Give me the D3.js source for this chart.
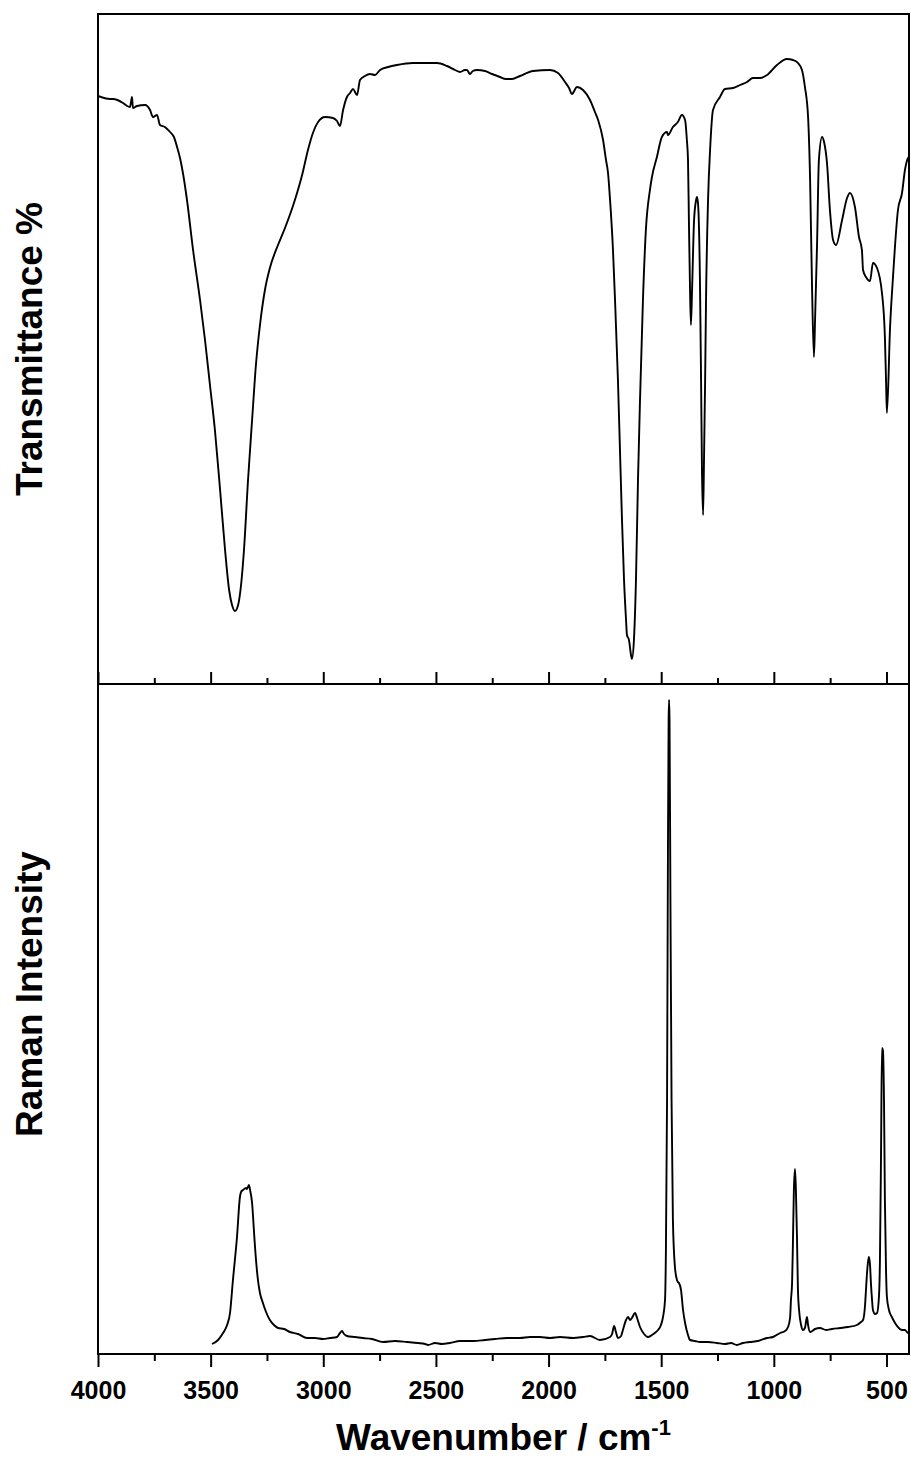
<!DOCTYPE html>
<html>
<head>
<meta charset="utf-8">
<script src="https://cdn.jsdelivr.net/npm/d3@7"></script>
<style>
  body { margin: 0; background: #fff; }
  text { font-family: "Liberation Sans", Arial, sans-serif; font-weight: bold; fill: #000; }
</style>
</head>
<body>
<script>
// IR spectrum: [wavenumber cm-1, transmittance %]
let irData = [
  [4000,74.8],[3947,74.5],[3933,74.5],[3889,74.1],[3871,73.8],[3858,73.7],[3849,74.7],[3845,73.6],
  [3827,73.8],[3791,73.9],[3769,73.4],[3756,72.7],[3738,72.9],[3725,71.9],[3703,71.7],[3680,71.2],
  [3663,70.7],[3649,69.7],[3636,68.6],[3623,67.1],[3605,64.4],[3578,59.4],[3547,54.4],[3525,50.4],
  [3503,45.9],[3481,41.4],[3458,35.4],[3436,29.4],[3418,25.4],[3405,23.9],[3392,23.3],[3378,23.9],
  [3365,25.9],[3352,29.4],[3334,36.4],[3316,42.4],[3299,47.9],[3281,51.9],[3259,55.4],[3237,57.6],
  [3201,59.9],[3170,61.6],[3126,64.4],[3094,66.9],[3068,69.4],[3046,71.1],[3023,72.2],[2992,72.7],
  [2957,72.6],[2939,72.3],[2926,71.8],[2912,73.4],[2895,74.7],[2881,75.1],[2868,75.5],[2850,74.9],
  [2837,76.4],[2815,76.8],[2793,77.0],[2770,76.9],[2748,77.4],[2712,77.7],[2673,77.9],[2602,78.1],
  [2548,78.1],[2495,78.1],[2451,77.8],[2415,77.4],[2393,77.2],[2371,77.4],[2362,77.4],[2349,77.0],
  [2336,77.3],[2318,77.4],[2282,77.3],[2251,77.0],[2216,76.7],[2189,76.5],[2162,76.5],[2127,76.8],
  [2069,77.3],[1994,77.4],[1958,77.1],[1927,76.2],[1909,75.6],[1896,75.0],[1874,75.7],[1847,75.4],
  [1816,74.4],[1794,73.2],[1780,72.4],[1758,70.4],[1745,68.4],[1736,67.1],[1727,64.4],[1714,59.4],
  [1705,54.4],[1692,46.4],[1683,39.4],[1674,32.4],[1665,26.4],[1656,22.4],[1652,20.9],[1643,20.4],
  [1634,18.9],[1630,18.5],[1621,20.4],[1612,26.4],[1603,36.4],[1594,44.4],[1581,54.4],[1568,61.4],
  [1550,65.4],[1541,66.7],[1519,68.7],[1497,70.7],[1474,71.2],[1470,70.9],[1448,71.7],[1426,72.2],
  [1408,72.9],[1394,72.4],[1386,70.4],[1381,68.4],[1377,62.4],[1372,55.4],[1368,51.9],[1363,55.4],
  [1354,62.4],[1345,64.4],[1341,64.7],[1336,63.9],[1328,56.4],[1323,46.4],[1319,37.4],[1314,32.9],
  [1310,38.4],[1305,46.4],[1301,54.4],[1292,64.4],[1283,69.4],[1270,73.4],[1239,74.7],[1217,75.5],
  [1181,75.6],[1150,75.9],[1119,76.2],[1093,76.6],[1061,76.6],[1030,76.9],[986,77.9],[942,78.5],
  [915,78.4],[893,78.1],[875,77.4],[862,75.7],[848,72.7],[839,66.4],[831,56.4],[822,48.7],
  [817,52.4],[808,60.1],[800,68.4],[786,70.7],[777,70.2],[764,68.1],[751,63.4],[737,60.4],
  [724,59.9],[697,62.4],[675,64.6],[662,65.1],[640,63.7],[622,60.7],[609,59.4],[604,57.4],
  [591,56.7],[573,56.3],[560,58.1],[542,57.6],[520,55.1],[507,50.7],[502,46.4],[498,43.1],
  [484,51.7],[471,56.7],[449,63.4],[431,65.1],[418,67.4],[404,68.6],[400,68.7]
];

// Raman spectrum: [wavenumber cm-1, intensity counts]
let ramanData = [
  [3494,100],[3467,140],[3445,210],[3427,290],[3414,410],[3401,740],[3383,1170],[3370,1570],
  [3365,1620],[3356,1640],[3343,1660],[3339,1650],[3330,1690],
  [3325,1640],[3316,1510],[3308,1240],[3303,1070],[3290,740],[3281,610],[3268,510],[3254,420],
  [3237,340],[3219,290],[3201,260],[3174,250],[3148,220],[3112,200],[3072,160],[3037,160],
  [3001,150],[2970,160],[2939,170],[2926,210],[2917,230],[2908,200],[2895,180],[2859,170],
  [2824,160],[2784,150],[2735,120],[2682,130],[2628,120],[2580,110],[2548,100],[2535,90],
  [2504,110],[2473,100],[2438,110],[2393,130],[2335,130],[2282,140],[2238,150],[2184,160],
  [2127,160],[2082,170],[2038,170],[1994,160],[1949,170],[1891,160],[1847,170],[1816,180],
  [1772,140],[1727,170],[1718,200],[1709,280],[1701,220],[1692,160],[1678,180],[1670,240],
  [1656,340],[1647,370],[1638,340],[1630,360],[1616,410],[1607,360],[1594,270],[1576,200],
  [1559,170],[1541,190],[1523,220],[1514,240],[1501,290],[1492,370],[1483,540],[1479,1040],
  [1474,2540],[1470,5040],[1467,6340],[1465,6540],[1463,6340],[1459,4540],[1454,2540],[1448,1340],
  [1439,870],[1430,740],[1426,720],[1421,710],[1412,640],[1403,440],[1394,310],[1381,190],
  [1372,140],[1350,130],[1328,120],[1292,120],[1252,110],[1217,100],[1190,110],[1164,90],
  [1137,110],[1106,120],[1070,130],[1030,160],[1004,170],[972,210],[950,230],[937,270],
  [928,360],[924,540],[919,710],[915,1140],[911,1640],[906,1850],[902,1640],[897,1140],
  [893,640],[888,440],[879,290],[871,240],[862,260],[853,370],[848,290],[839,220],
  [817,250],[795,260],[768,240],[742,250],[706,260],[671,270],[631,290],[613,320],
  [604,340],[595,490],[591,640],[587,790],[582,920],[578,970],[573,890],[569,710],
  [564,540],[560,440],[551,400],[542,410],[533,590],[529,940],[524,2040],[520,3060],
  [516,3040],[511,2540],[507,1540],[502,840],[498,570],[489,440],[476,370],[462,310],
  [449,270],[431,240],[418,240],[404,210],[400,210]
];

let majorTicks = [4000, 3500, 3000, 2500, 2000, 1500, 1000, 500];
let minorTicks = [3750, 3250, 2750, 2250, 1750, 1250, 750];

let width = 911;
let height = 1459;
let left = 98, right = 909;
let top1 = 14, mid = 684, bottom = 1354;

let svg = d3.select('body')
  .append('svg')
  .attr('width', width)
  .attr('height', height);

let x = d3.scaleLinear().domain([4000, 400]).range([left, right]);
let yIR = d3.scaleLinear().domain([16, 83]).range([mid, top1]);
let yRaman = d3.scaleLinear().domain([0, 6700]).range([bottom, mid]);

let irLine = d3.line()
  .x((d) => x(d[0]))
  .y((d) => yIR(d[1]))
  .curve(d3.curveMonotoneX);

let ramanLine = d3.line()
  .x((d) => x(d[0]))
  .y((d) => yRaman(d[1]))
  .curve(d3.curveMonotoneX);

svg.append('path')
  .datum(irData)
  .attr('fill', 'none')
  .attr('stroke', '#000')
  .attr('stroke-width', 1.9)
  .attr('stroke-linejoin', 'round')
  .attr('d', irLine);

svg.append('path')
  .datum(ramanData)
  .attr('fill', 'none')
  .attr('stroke', '#000')
  .attr('stroke-width', 1.9)
  .attr('stroke-linejoin', 'round')
  .attr('d', ramanLine);

// top panel: inward ticks, no labels
let topMajor = svg.append('g')
  .attr('transform', `translate(0,${mid})`)
  .call(d3.axisBottom(x).tickValues(majorTicks).tickSize(-12).tickFormat(''));
let topMinor = svg.append('g')
  .attr('transform', `translate(0,${mid})`)
  .call(d3.axisBottom(x).tickValues(minorTicks).tickSize(-6).tickFormat(''));

// bottom panel: outward ticks with labels
let botMajor = svg.append('g')
  .attr('transform', `translate(0,${bottom})`)
  .call(d3.axisBottom(x).tickValues(majorTicks).tickSize(13).tickPadding(14).tickFormat(d3.format('d')));
let botMinor = svg.append('g')
  .attr('transform', `translate(0,${bottom})`)
  .call(d3.axisBottom(x).tickValues(minorTicks).tickSize(7).tickFormat(''));

[topMajor, topMinor, botMajor, botMinor].forEach((g) => {
  g.select('.domain').remove();
  g.selectAll('line').attr('stroke', '#000').attr('stroke-width', 2);
});

botMajor.selectAll('text')
  .attr('font-size', 25)
  .attr('fill', '#000');

// frames
svg.append('rect')
  .attr('x', left).attr('y', top1)
  .attr('width', right - left).attr('height', mid - top1)
  .attr('fill', 'none').attr('stroke', '#000').attr('stroke-width', 2);
svg.append('rect')
  .attr('x', left).attr('y', mid)
  .attr('width', right - left).attr('height', bottom - mid)
  .attr('fill', 'none').attr('stroke', '#000').attr('stroke-width', 2);

// axis titles
svg.append('text')
  .attr('transform', `translate(42,${(top1 + mid) / 2}) rotate(-90)`)
  .attr('text-anchor', 'middle')
  .attr('font-size', 37)
  .text('Transmittance %');

svg.append('text')
  .attr('transform', `translate(42,994) rotate(-90)`)
  .attr('text-anchor', 'middle')
  .attr('font-size', 37)
  .text('Raman Intensity');

let xTitle = svg.append('text')
  .attr('x', (left + right) / 2)
  .attr('y', 1450)
  .attr('text-anchor', 'middle')
  .attr('font-size', 37);
xTitle.append('tspan').text('Wavenumber / cm');
xTitle.append('tspan')
  .attr('font-size', 22)
  .attr('dy', -15)
  .text('-1');
</script>
</body>
</html>
